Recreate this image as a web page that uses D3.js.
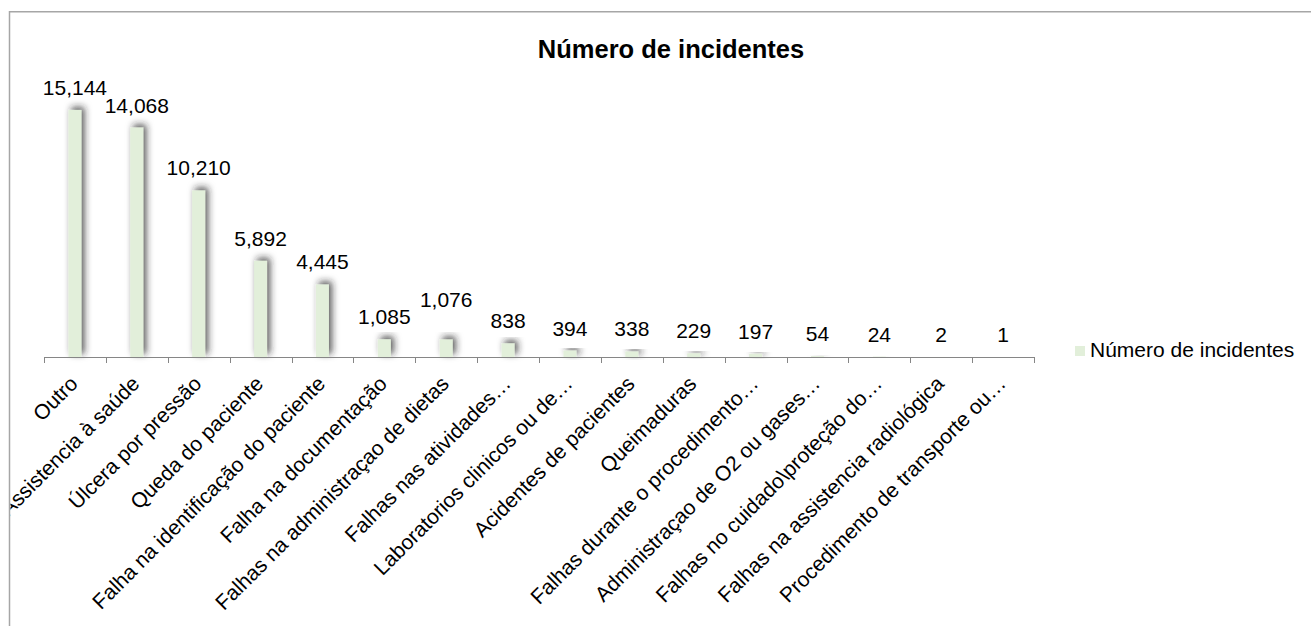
<!DOCTYPE html>
<html>
<head>
<meta charset="utf-8">
<script src="https://cdn.jsdelivr.net/npm/d3@7"></script>
<style>
  html, body { margin: 0; padding: 0; background: #fff; }
  svg { display: block; font-family: "Liberation Sans", Arial, sans-serif; }
</style>
</head>
<body>
<svg id="chart" width="1311" height="626"></svg>
<script>
const title = "Número de incidentes";
const seriesName = "Número de incidentes";
const categories = [
  "Outro",
  "Assistencia à saúde",
  "Úlcera por pressão",
  "Queda do paciente",
  "Falha na identificação do paciente",
  "Falha na documentação",
  "Falhas na administraçao de dietas",
  "Falhas nas atividades…",
  "Laboratorios clinicos ou de…",
  "Acidentes de pacientes",
  "Queimaduras",
  "Falhas durante o procedimento…",
  "Administraçao de O2 ou gases…",
  "Falhas no cuidado\\proteção do…",
  "Falhas na assistencia radiológica",
  "Procedimento de transporte ou…"
];
const values = [15144, 14068, 10210, 5892, 4445, 1085, 1076, 838, 394, 338, 229, 197, 54, 24, 2, 1];

const svg = d3.select("#chart");
const W = 1311, H = 626;

const defs = svg.append("defs");
defs.append("clipPath").attr("id", "chartClip")
  .append("rect").attr("x", 10.5).attr("y", 12).attr("width", W).attr("height", H);
const f = defs.append("filter").attr("id", "shadow")
  .attr("x", "-100%").attr("y", "-40%").attr("width", "400%").attr("height", "180%");
f.append("feDropShadow").attr("dx", 3).attr("dy", -3).attr("stdDeviation", 3.5)
  .attr("flood-color", "#222").attr("flood-opacity", 0.75);

// chart border
svg.append("rect").attr("x", 9.5).attr("y", 11.75).attr("width", W + 20).attr("height", H + 20)
  .attr("fill", "none").attr("stroke", "#a6a6a6").attr("stroke-width", 1.5);

const g = svg.append("g").attr("clip-path", "url(#chartClip)");

const x = d3.scaleBand().domain(categories).range([44, 1034]).padding(0);
const y = d3.scaleLinear().domain([0, 16000]).range([357, 96]);
const barW = 13;

// title
g.append("text").attr("x", 671).attr("y", 58).attr("text-anchor", "middle")
  .attr("font-size", 25.5).attr("font-weight", "bold").attr("fill", "#000").text(title);

// bars
g.append("g").selectAll("rect").data(values).join("rect")
  .attr("x", (d, i) => x(categories[i]) + x.bandwidth() / 2 - barW / 2)
  .attr("y", d => y(d))
  .attr("width", barW)
  .attr("height", d => y(0) - y(d))
  .attr("fill", "#e2efda")
  .attr("filter", "url(#shadow)");

// axis
const axis = d3.axisBottom(x).tickSize(6).tickFormat("");
const ax = g.append("g").attr("transform", `translate(0,${y(0)})`).call(axis);
ax.select(".domain").attr("stroke", "#868686").attr("d", `M44.5,0.5H1034.5`);
ax.selectAll(".tick").remove();
const bounds = d3.range(categories.length + 1).map(i => 44 + i * x.step());
ax.selectAll("line.tk").data(bounds).join("line").attr("class", "tk")
  .attr("x1", d => Math.round(d) + 0.5).attr("x2", d => Math.round(d) + 0.5)
  .attr("y1", 0).attr("y2", 6).attr("stroke", "#868686");

// category labels
g.append("g").selectAll("text").data(categories).join("text")
  .attr("transform", d => `translate(${x(d) + x.bandwidth() / 2 + 4},${y(0) + 28}) rotate(-45)`)
  .attr("text-anchor", "end")
  .attr("font-size", 21).attr("fill", "#000")
  .text(d => d);

// data labels
const labelNudge = { 6: -17 };
const fmt = d3.format(",");
g.append("g").selectAll("text").data(values).join("text")
  .attr("x", (d, i) => x(categories[i]) + x.bandwidth() / 2)
  .attr("y", (d, i) => y(d) - 15 + (labelNudge[i] || 0))
  .attr("text-anchor", "middle")
  .attr("font-size", 21).attr("fill", "#000")
  .text(d => fmt(d));

// legend
const lg = g.append("g");
lg.append("rect").attr("x", 1075).attr("y", 346).attr("width", 10).attr("height", 10).attr("fill", "#e2efda");
lg.append("text").attr("x", 1090).attr("y", 357).attr("font-size", 21).attr("fill", "#000").text(seriesName);
</script>
</body>
</html>
